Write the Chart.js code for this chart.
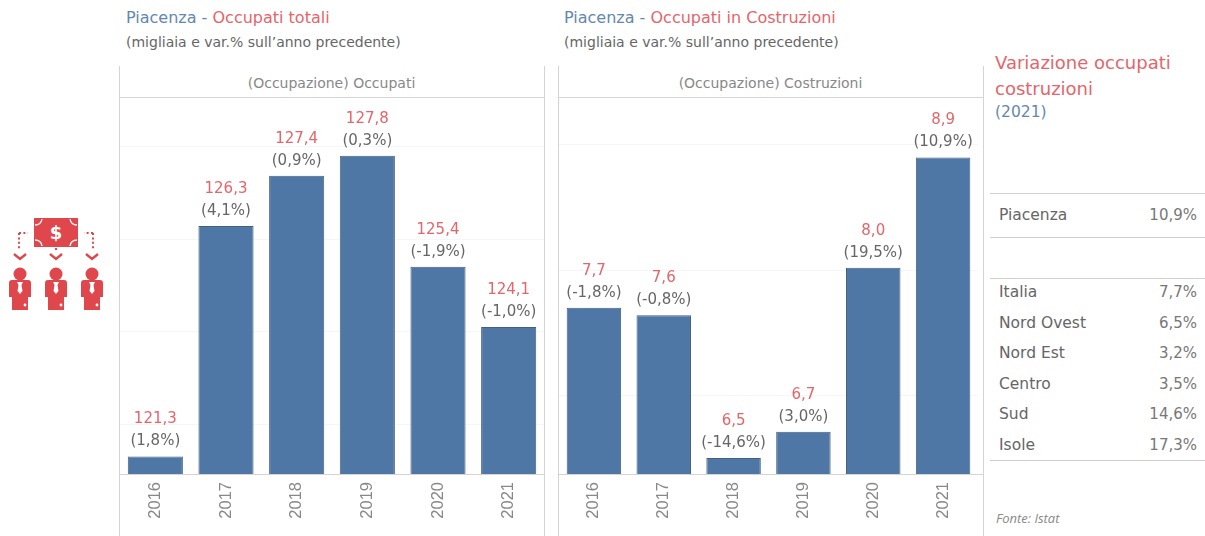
<!DOCTYPE html>
<html><head><meta charset="utf-8">
<script src="https://cdn.jsdelivr.net/npm/chart.js@4"></script>
<style>
html,body{margin:0;padding:0;background:#fff;width:1205px;height:536px;overflow:hidden}
body{position:relative;font-family:"DejaVu Sans",sans-serif;color:#666}
.t{position:absolute;white-space:nowrap;line-height:1;transform:translateY(-50%)}
.l{position:absolute;background:#d4d4d4}
.b{color:#6487b0}.r{color:#e4656a}
canvas{position:absolute}
</style></head><body>
<svg style="position:absolute;left:0;top:210px" width="115" height="105" viewBox="0 210 115 105">
 <g fill="#e0474c">
  <path d="M34 218h44v29h-44z"/>
  <circle cx="20" cy="274" r="6.5"/><circle cx="56" cy="274" r="6.5"/><circle cx="92" cy="274" r="6.5"/>
  <path d="M12 280h16q3 0 3 3v14h-3v13h-16v-13h-3v-14q0-3 3-3z"/>
  <path d="M48 280h16q3 0 3 3v14h-3v13h-16v-13h-3v-14q0-3 3-3z"/>
  <path d="M84 280h16q3 0 3 3v14h-3v13h-16v-13h-3v-14q0-3 3-3z"/>
 </g>
 <g fill="#fff">
  <path d="M17 282h6l-1.500 3 1 6-2.500 3-2.500-3 1-6z"/><path d="M53 282h6l-1.500 3 1 6-2.500 3-2.500-3 1-6z"/><path d="M89 282h6l-1.500 3 1 6-2.500 3-2.500-3 1-6z"/>
  <circle cx="25" cy="305" r="1.400"/><circle cx="61" cy="305" r="1.400"/><circle cx="97" cy="305" r="1.400"/>
 </g>
 <g fill="none" stroke="#fff" stroke-width="1.300">
  <path d="M35 225q6 0 7-6M77 225q-6 0-7-6M35 240q6 0 7 6M77 240q-6 0-7 6"/>
 </g>
 <text x="56" y="238.500" text-anchor="middle" font-family="DejaVu Sans" font-weight="bold" font-size="18" fill="#fff">$</text>
 <g fill="none" stroke="#e0474c" stroke-width="2">
  <path d="M19 233h9M19 233v17M93 233h-9M93 233v17M56 248v4" stroke-dasharray="2 2.400"/>
  <path d="M14 254l6 5 6-5M50 254l6 5 6-5M86 254l6 5 6-5" stroke-width="2.400"/>
 </g>
</svg>

<div class="t" style="left:126px;top:18px;font-size:16px"><span class="b">Piacenza - </span><span class="r">Occupati totali</span></div>
<div class="t" style="left:126px;top:42px;font-size:14px">(migliaia e var.% sull’anno precedente)</div>
<div class="t" style="left:564px;top:18px;font-size:16px"><span class="b">Piacenza - </span><span class="r">Occupati in Costruzioni</span></div>
<div class="t" style="left:564px;top:42px;font-size:14px">(migliaia e var.% sull’anno precedente)</div>

<div class="l" style="left:119px;top:66px;width:1px;height:470px"></div>
<div class="l" style="left:544px;top:66px;width:1px;height:470px"></div>
<div class="l" style="left:558px;top:66px;width:1px;height:470px"></div>
<div class="l" style="left:983px;top:66px;width:1px;height:470px"></div>
<div class="l" style="left:119px;top:97px;width:426px;height:1px"></div>
<div class="l" style="left:558px;top:97px;width:426px;height:1px"></div>
<div class="l" style="left:978px;top:474px;width:5px;height:1px"></div>
<div class="t" style="left:119px;width:425px;text-align:center;top:83px;font-size:14px;color:#888">(Occupazione) Occupati</div>
<div class="t" style="left:558px;width:425px;text-align:center;top:83px;font-size:14px;color:#888">(Occupazione) Costruzioni</div>

<canvas id="c1" style="left:120px;top:98px"></canvas>
<canvas id="c2" style="left:559px;top:98px"></canvas>

<div class="t r" style="left:995px;top:63px;font-size:18px">Variazione occupati</div>
<div class="t r" style="left:995px;top:89px;font-size:18px">costruzioni</div>
<div class="t b" style="left:995px;top:113px;font-size:15.500px">(2021)</div>
<div id="tbl"></div>
<div class="t" style="left:996px;top:518px;font-size:13px;font-family:'Open Sans';font-style:italic;color:#888">Fonte: Istat</div>

<script>
const years = ["2016","2017","2018","2019","2020","2021"];
const occupati = [121.3,126.28,127.37,127.8,125.4,124.1];
const occupatiLabels = ["121,3","126,3","127,4","127,8","125,4","124,1"];
const occupatiVar = ["(1,8%)","(4,1%)","(0,9%)","(0,3%)","(-1,9%)","(-1,0%)"];
const occupatiGrid = [122,124,126,128];
const costruzioni = [7.70,7.64,6.5,6.71,8.02,8.9];
const costruzioniLabels = ["7,7","7,6","6,5","6,7","8,0","8,9"];
const costruzioniVar = ["(-1,8%)","(-0,8%)","(-14,6%)","(3,0%)","(19,5%)","(10,9%)"];
const costruzioniGrid = [7,8,9];
const areeTop = ["Piacenza"];
const areeTopVal = ["10,9%"];
const aree = ["Italia","Nord Ovest","Nord Est","Centro","Sud","Isole"];
const areeVal = ["7,7%","6,5%","3,2%","3,5%","14,6%","17,3%"];

function tableRows(){
  const h=document.getElementById('tbl');
  const add=(html)=>h.insertAdjacentHTML('beforeend',html);
  [193,237,278,460].forEach(y=>add(`<div class="l" style="left:990px;width:215px;top:${y}px;height:1px;background:#cfcfcf"></div>`));
  const row=(n,v,y)=>{
    add(`<div class="t" style="left:999px;top:${y}px;font-size:15.5px">${n}</div>`);
    add(`<div class="t" style="right:8px;top:${y-1}px;font-size:15px;color:#777">${v}</div>`);
  };
  row(areeTop[0],areeTopVal[0],216);
  const ys=[293,324,354,385,415,446];
  aree.forEach((a,i)=>row(a,areeVal[i],ys[i]));
}
tableRows();

const barLabels={id:'barLabels',afterDatasetsDraw(chart,args,o){
  const ctx=chart.ctx,meta=chart.getDatasetMeta(0);
  ctx.save();ctx.textAlign='center';ctx.textBaseline='middle';ctx.font='15px "DejaVu Sans"';
  meta.data.forEach((b,i)=>{
    ctx.fillStyle='#e4656a';ctx.fillText(o.top[i],b.x,b.y-37);
    ctx.fillStyle='#666';ctx.fillText(o.sub[i],b.x,b.y-15);
  });
  ctx.restore();
}};

function make(id,w,vals,top,sub,grid,min,max){
  const c=document.getElementById(id);
  c.width=w;c.height=438;c.style.width=w+'px';c.style.height='438px';
  new Chart(c,{type:'bar',
    data:{labels:years,datasets:[{data:vals,backgroundColor:'#4e77a6',borderColor:'#44607f',borderWidth:1,
      categoryPercentage:1,barPercentage:0.78}]},
    plugins:[barLabels],
    options:{responsive:false,animation:false,
      layout:{padding:0},
      plugins:{legend:{display:false},tooltip:{enabled:false},barLabels:{top,sub}},
      scales:{
        x:{offset:true,
          grid:{display:false,drawTicks:false},
          border:{color:'#d4d4d4',width:1},
          afterFit(s){s.height=62},
          ticks:{minRotation:90,maxRotation:90,padding:8,color:'#888',font:{family:'"Liberation Sans"',size:16.5}}},
        y:{min,max,
          grid:{color:'#f6f6f6',drawTicks:false},
          border:{display:false},
          ticks:{display:false},
          afterFit(s){s.width=0},
          afterBuildTicks(s){s.ticks=grid.map(v=>({value:v}))}}
      }}});
}
make('c1',424,occupati,occupatiLabels,occupatiVar,occupatiGrid,120.92,129.05);
make('c2',419,costruzioni,costruzioniLabels,costruzioniVar,costruzioniGrid,6.373,9.375);
</script>
</body></html>
